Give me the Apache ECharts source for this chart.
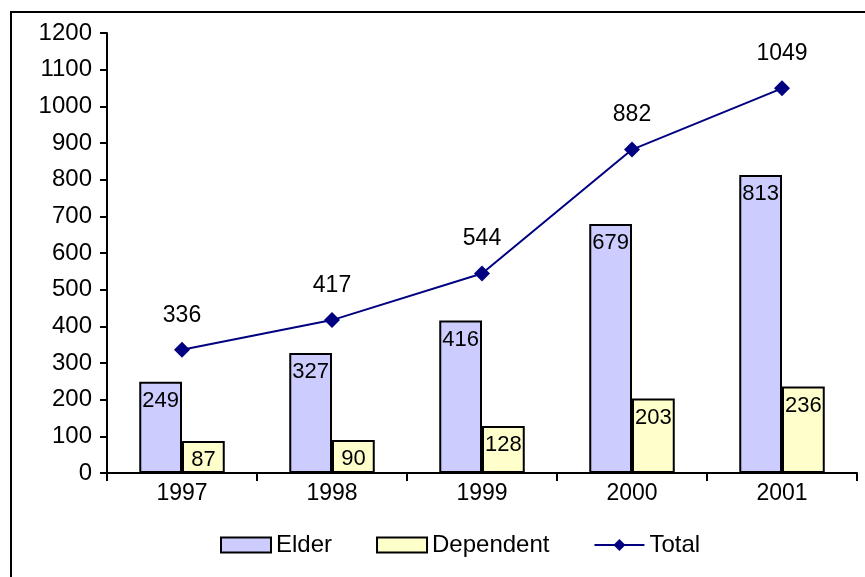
<!DOCTYPE html>
<html>
<head>
<meta charset="utf-8">
<script src="https://cdn.jsdelivr.net/npm/echarts@6/dist/echarts.min.js"></script>
<style>
  html, body { margin: 0; padding: 0; background: #fff; }
  #chart { width: 865px; height: 577px; }
</style>
</head>
<body>
<div id="chart"></div>
<script>
// data
const years = ['1997', '1998', '1999', '2000', '2001']
const elder = [249, 327, 416, 679, 813]
const dependent = [87, 90, 128, 203, 236]
const total = [336, 417, 544, 882, 1049]

const chart = echarts.init(document.getElementById('chart'))
const font = 'Arial, "Liberation Sans", sans-serif'

const option = {
    backgroundColor: '#fff',
    animation: false,
    textStyle: { fontFamily: font, color: '#000' },
    graphic: [{
        type: 'rect',
        shape: { x: 11, y: 12, width: 870, height: 580 },
        style: { fill: 'none', stroke: '#000', lineWidth: 2 },
        silent: true
    }],
    grid: { left: 107, right: 8, top: 33, bottom: 104 },
    legend: {
        bottom: 15,
        left: 215,
        itemWidth: 50,
        itemHeight: 15,
        itemGap: 44,
        textStyle: { fontSize: 24, color: '#000', fontFamily: font },
        data: [
            { name: 'Elder', icon: 'rect' },
            { name: 'Dependent', icon: 'rect' },
            { name: 'Total' }
        ]
    },
    xAxis: {
        type: 'category',
        data: years,
        axisLine: { lineStyle: { color: '#000', width: 2 } },
        axisTick: { show: true, length: 8, lineStyle: { color: '#000', width: 2 } },
        axisLabel: { fontSize: 23, color: '#000', margin: 9, fontFamily: font }
    },
    yAxis: {
        type: 'value',
        min: 0,
        max: 1200,
        interval: 100,
        splitLine: { show: false },
        axisLine: { show: true, lineStyle: { color: '#000', width: 2 } },
        axisTick: { show: true, length: 7, lineStyle: { color: '#000', width: 2 } },
        axisLabel: { fontSize: 24, color: '#000', margin: 15, fontFamily: font, formatter: v => String(v) }
    },
    series: [
        {
            name: 'Elder',
            type: 'bar',
            data: elder,
            barGap: '0%',
            barCategoryGap: '43%',
            itemStyle: { color: '#CCCCFF', borderColor: '#000', borderWidth: 2 },
            label: { show: true, position: 'insideTop', distance: 8, fontSize: 22, color: '#000', fontFamily: font }
        },
        {
            name: 'Dependent',
            type: 'bar',
            data: dependent,
            itemStyle: { color: '#FFFFCC', borderColor: '#000', borderWidth: 2 },
            label: { show: true, position: 'insideTop', distance: 8, fontSize: 22, color: '#000', fontFamily: font }
        },
        {
            name: 'Total',
            type: 'line',
            data: total,
            symbol: 'diamond',
            symbolSize: 16,
            lineStyle: { color: '#000080', width: 2 },
            itemStyle: { color: '#000080' },
            label: { show: true, position: 'top', distance: 15, fontSize: 23, color: '#000', fontFamily: font }
        }
    ]
}

chart.setOption(option)
</script>
</body>
</html>
